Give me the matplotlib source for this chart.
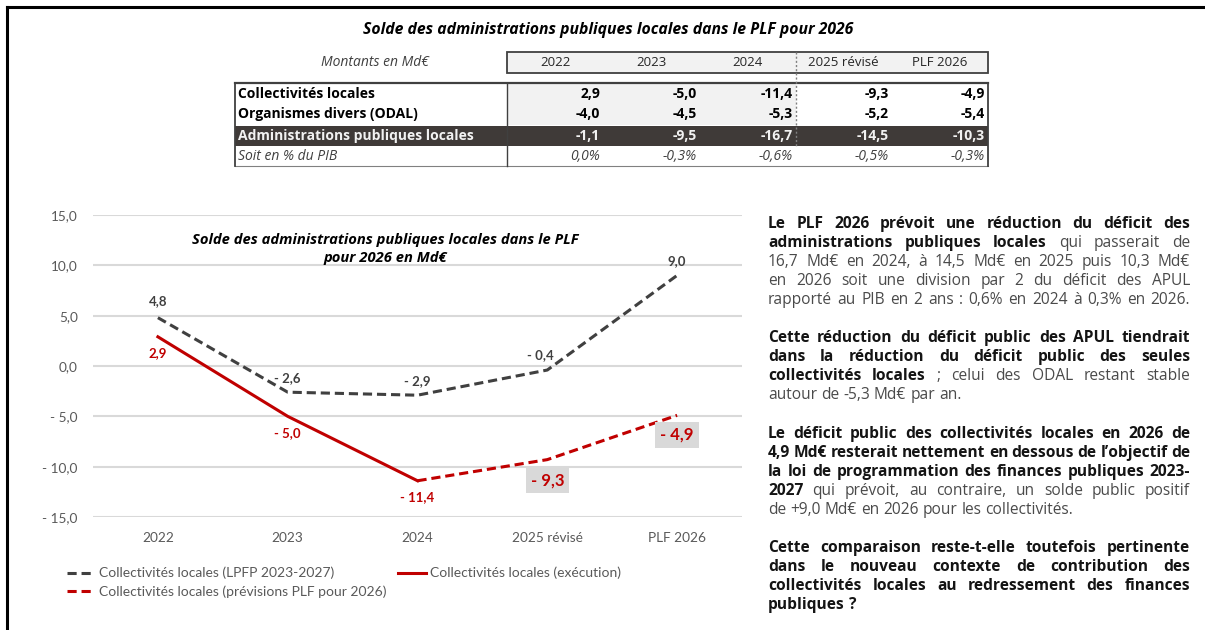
import matplotlib
matplotlib.use('Agg')
import matplotlib.pyplot as plt
from matplotlib.patches import Rectangle

plt.rcParams['font.family'] = ['Lato', 'DejaVu Sans']
WIDE = ['Open Sans', 'DejaVu Sans']

# ---- data ----
years = ['2022', '2023', '2024', '2025 révisé', 'PLF 2026']
row_labels = ['Collectivités locales', 'Organismes divers (ODAL)',
              'Administrations publiques locales', 'Soit en % du PIB']
coll = [2.9, -5.0, -11.4, -9.3, -4.9]
odal = [-4.0, -4.5, -5.3, -5.2, -5.4]
apul = [-1.1, -9.5, -16.7, -14.5, -10.3]
pib = [0.0, -0.3, -0.6, -0.5, -0.3]
lpfp = [4.8, -2.6, -2.9, -0.4, 9.0]
yticks = [15, 10, 5, 0, -5, -10, -15]

GRAY = '#404040'
RED = '#c00000'
W, H = 1205, 630


def fr(v, nd=1):
    return f'{v:.{nd}f}'.replace('.', ',')


def fr_sp(v):
    # "- 2,6" style used on the chart
    return '- ' + fr(-v) if v < 0 else fr(v)


fig = plt.figure(figsize=(W / 100, H / 100), dpi=100)

# overlay in pixel coordinates for table / frame / text
ov = fig.add_axes([0, 0, 1, 1])
ov.set_xlim(0, W)
ov.set_ylim(H, 0)
ov.axis('off')

ov.plot([7, W], [7, 7], color='black', lw=2.2)
ov.plot([7, 7], [7, H], color='black', lw=2.2)

# ---- table ----
ov.text(608, 30, 'Solde des administrations publiques locales dans le PLF pour 2026',
        ha='center', va='center', fontsize=11.3, fontweight='bold', style='italic',
        family=WIDE)
ov.text(375, 63, 'Montants en Md€', ha='center', va='center', fontsize=10,
        style='italic', color='#404040', family=WIDE)

col_l = 507
col_w = 96.2
x_r = col_l + 5 * col_w
ov.add_patch(Rectangle((col_l, 52), x_r - col_l, 21, facecolor='#f2f2f2',
                       edgecolor='#404040', lw=1.3))
for i, y in enumerate(years):
    ov.text(col_l + col_w * (i + 0.5), 63, y, ha='center', va='center',
            fontsize=9.5, color='#262626', family=WIDE)

top, bot = 83, 166
row_y = [94, 114, 136, 156]
ov.add_patch(Rectangle((col_l, top), 3 * col_w, 42, facecolor='#f2f2f2', lw=0))
ov.add_patch(Rectangle((235, 126), x_r - 235, 20, facecolor='#3f3a38', lw=0))
ov.plot([235, x_r], [top, top], color='#404040', lw=1.6)
ov.plot([235, x_r], [bot, bot], color='#808080', lw=0.8)
ov.plot([235, 235], [top, bot], color='#404040', lw=1.3)
ov.plot([col_l, col_l], [top, bot], color='#404040', lw=1.0)
ov.plot([x_r, x_r], [top, bot], color='#404040', lw=1.3)
ov.plot([col_l + 3 * col_w] * 2, [52, 146], color='#808080', lw=1.0, ls=(0, (1.5, 1.5)))

rows = [coll, odal, apul, pib]
for r, (lab, vals) in enumerate(zip(row_labels, rows)):
    if r == 3:
        kw = dict(style='italic', color='#404040')
        txt = [fr(v) + '%' for v in vals]
    elif r == 2:
        kw = dict(fontweight='bold', color='#f2f2f2')
        txt = [fr(v) for v in vals]
    else:
        kw = dict(fontweight='bold', color='black')
        txt = [fr(v) for v in vals]
    ov.text(238, row_y[r], lab, ha='left', va='center', fontsize=10, family=WIDE, **kw)
    for i, t in enumerate(txt):
        ov.text(col_l + col_w * (i + 1) - 3, row_y[r], t, ha='right', va='center',
                fontsize=10, family=WIDE, **kw)

# ---- chart ----
ax = fig.add_axes([93 / W, 1 - 517 / H, (742 - 93) / W, (517 - 215) / H])
ax.patch.set_alpha(0)
xs = list(range(len(years)))
ax.plot(xs, lpfp, color=GRAY, lw=2.2, ls=(0, (3, 1.6)),
        label='Collectivités locales (LPFP 2023-2027)')
ax.plot(xs[2:], coll[2:], color=RED, lw=2.2, ls=(0, (3, 1.6)),
        label='Collectivités locales (prévisions PLF pour 2026)')
ax.plot(xs[:3], coll[:3], color=RED, lw=2.2,
        label='Collectivités locales (exécution)')
ax.set_xlim(-0.5, 4.5)
ax.set_ylim(-15, 15)
ax.set_yticks(yticks)
ax.set_yticklabels([fr_sp(v) for v in yticks])
ax.set_xticks(xs)
ax.set_xticklabels(years)
ax.grid(axis='y', color='#d9d9d9', lw=1.5)
ax.set_axisbelow(True)
for s in ax.spines.values():
    s.set_visible(False)
ax.tick_params(length=0, labelsize=9.8, labelcolor='#595959')
ax.tick_params(axis='y', pad=11)
ax.tick_params(axis='x', pad=11)

fig.text(385 / W, 1 - 249 / H,
         'Solde des administrations publiques locales dans le PLF\npour 2026 en Md€',
         ha='center', va='center', fontsize=10.6, fontweight='bold', style='italic',
         linespacing=1.3, family=WIDE)

lab_kw = dict(textcoords='offset points', ha='center', va='center',
              fontsize=9.5, fontweight='bold')
offs_lpfp = [(0, 12), (0, 10), (0, 10), (-5, 11), (0, 10)]
for i, v in enumerate(lpfp):
    ax.annotate(fr_sp(v), (i, v), xytext=offs_lpfp[i], color=GRAY, **lab_kw)
offs_coll = [(0, -12), (0, -12), (0, -12)]
for i in range(3):
    ax.annotate(fr_sp(coll[i]), (i, coll[i]), xytext=offs_coll[i], color=RED, **lab_kw)
for i, dy in ((3, -15), (4, -14)):
    ax.annotate(fr_sp(coll[i]), (i, coll[i]), xytext=(0, dy), textcoords='offset points',
                ha='center', va='center', fontsize=12, fontweight='bold', color=RED,
                bbox=dict(boxstyle='square,pad=0.3', fc='#d9d9d9', ec='none'))

ax.legend(loc='upper left', bbox_to_anchor=(60 / W, 1 - 560 / H),
          bbox_transform=fig.transFigure, ncol=2, frameon=False,
          fontsize=10, handlelength=2.0, handletextpad=0.3,
          columnspacing=0.85, labelspacing=0.45, borderpad=0,
          labelcolor='#595959')

# ---- justified commentary ----
paras = [
    [([('Le PLF 2026 prévoit une réduction du déficit des', True)], True),
     ([('administrations publiques locales', True), ('qui passerait de', False)], True),
     ([('16,7 Md€ en 2024, à 14,5 Md€ en 2025 puis 10,3 Md€', False)], True),
     ([('en 2026 soit une division par 2 du déficit des APUL', False)], True),
     ([('rapporté au PIB en 2 ans : 0,6% en 2024 à 0,3% en 2026.', False)], True)],
    [([('Cette réduction du déficit public des APUL tiendrait', True)], True),
     ([('dans la réduction du déficit public des seules', True)], True),
     ([('collectivités locales', True), ('; celui des ODAL restant stable', False)], True),
     ([('autour de -5,3 Md€ par an.', False)], False)],
    [([('Le déficit public des collectivités locales en 2026 de', True)], True),
     ([('4,9 Md€ resterait nettement en dessous de l’objectif de', True)], True),
     ([('la loi de programmation des finances publiques 2023-', True)], True),
     ([('2027', True), ('qui prévoit, au contraire, un solde public positif', False)], True),
     ([('de +9,0 Md€ en 2026 pour les collectivités.', False)], False)],
    [([('Cette comparaison reste-t-elle toutefois pertinente', True)], True),
     ([('dans le nouveau contexte de contribution des', True)], True),
     ([('collectivités locales au redressement des finances', True)], True),
     ([('publiques ?', True)], False)],
]
para_y = [224, 338, 434, 548]
x0, x1, dy, fs = 768, 1190, 19, 11.2

fig.canvas.draw()
rend = fig.canvas.get_renderer()
sp = ov.text(0, 0, 'a a', fontsize=fs, family=WIDE)
sp2 = ov.text(0, 0, 'aa', fontsize=fs, family=WIDE)
space_w = sp.get_window_extent(rend).width - sp2.get_window_extent(rend).width
sp.remove()
sp2.remove()
for py, lines in zip(para_y, paras):
    for k, (segs, just) in enumerate(lines):
        y = py + k * dy
        arts = []
        for seg, bold in segs:
            for w in seg.split():
                t = ov.text(0, y, w, fontsize=fs, va='center', ha='left', family=WIDE,
                            fontweight='bold' if bold else 'normal',
                            color='#141414' if bold else '#4a4a4a')
                arts.append(t)
        widths = [a.get_window_extent(rend).width for a in arts]
        if just and len(arts) > 1:
            gap = (x1 - x0 - sum(widths)) / (len(arts) - 1)
        else:
            gap = space_w
        x = x0
        for a, w in zip(arts, widths):
            a.set_x(x)
            x += w + gap

fig.savefig('out.png', dpi=100)
